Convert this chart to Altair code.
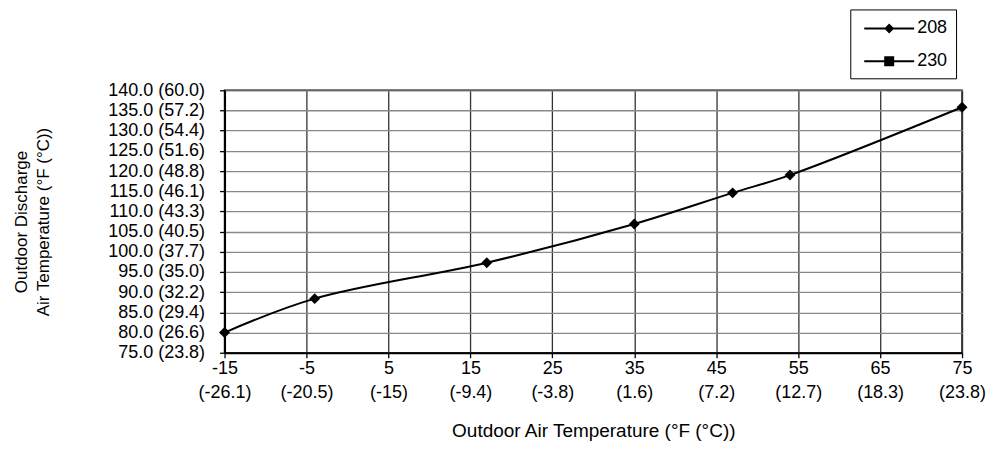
import altair as alt
import pandas as pd

# ---- data ----
outdoor_f = [-15, -4, 17, 35, 47, 54, 75]
discharge_208 = [80.0, 88.4, 97.3, 106.9, 114.6, 119.0, 135.8]
series_names = ["208", "230"]

x_ticks = [-15, -5, 5, 15, 25, 35, 45, 55, 65, 75]
x_tick_c = ["(-26.1)", "(-20.5)", "(-15)", "(-9.4)", "(-3.8)", "(1.6)", "(7.2)", "(12.7)", "(18.3)", "(23.8)"]
y_ticks = [75, 80, 85, 90, 95, 100, 105, 110, 115, 120, 125, 130, 135, 140]
y_tick_labels = ["75.0 (23.8)", "80.0 (26.6)", "85.0 (29.4)", "90.0 (32.2)", "95.0 (35.0)",
                 "100.0 (37.7)", "105.0 (40.5)", "110.0 (43.3)", "115.0 (46.1)", "120.0 (48.8)",
                 "125.0 (51.6)", "130.0 (54.4)", "135.0 (57.2)", "140.0 (60.0)"]

df = pd.DataFrame({"x": outdoor_f, "y": discharge_208, "series": "208"})

x_expr = "{" + ",".join(f"'{v}':['{v}','{c}']" for v, c in zip(x_ticks, x_tick_c)) + "}[datum.value+'']"
y_expr = "{" + ",".join(f"'{v}':'{t}'" for v, t in zip(y_ticks, y_tick_labels)) + "}[datum.value+'']"

narrow = "Liberation Sans Narrow, Arial Narrow, Liberation Sans, Arial, sans-serif"
regular = "Liberation Sans, Arial, sans-serif"

x_enc = alt.X("x:Q",
              scale=alt.Scale(domain=[-15, 75], nice=False, zero=False),
              axis=alt.Axis(values=x_ticks, tickCount=len(x_ticks) + 5, labelExpr=x_expr,
                            title="Outdoor Air Temperature (°F (°C))",
                            labelFont=narrow, labelFontSize=18, labelColor="black",
                            labelLineHeight=24, labelPadding=2, labelBaseline="top",
                            labelOverlap=False,
                            titleFont=narrow, titleFontSize=19, titleFontWeight="normal", titleColor="black",
                            titleX=369.5, titleY=78, titleBaseline="middle", titleAnchor="middle",
                            grid=True, gridColor="#333333", gridWidth=1.3,
                            domainColor="black", domainWidth=2, tickColor="black", tickSize=5, tickWidth=1.3,
                            labelFlush=False))
y_enc = alt.Y("y:Q",
              scale=alt.Scale(domain=[75, 140], nice=False, zero=False),
              axis=alt.Axis(values=y_ticks, tickCount=len(y_ticks) + 5, labelExpr=y_expr,
                            title=["Outdoor Discharge", "Air Temperature (°F (°C))"],
                            labelFont=regular, labelFontSize=18, labelColor="black", labelPadding=15,
                            labelOverlap=False,
                            titleFont=regular, titleFontSize=17, titleFontWeight="normal", titleColor="black",
                            titleAngle=-90, titleX=-203, titleY=131.5, titleBaseline="middle",
                            titleAlign="center", titleLineHeight=22,
                            grid=True, gridColor="#888888", gridWidth=1.3,
                            domainColor="black", domainWidth=2, tickColor="black", tickSize=5, tickWidth=1.3,
                            labelFlush=False))

line = alt.Chart(df).mark_line(color="black", strokeWidth=2, interpolate="catmull-rom").encode(x=x_enc, y=y_enc)

points = alt.Chart(df).mark_point(filled=True, color="black", opacity=1, size=120).encode(
    x="x:Q", y="y:Q", shape=alt.value("diamond"))

# legend glyphs: a short line with the marker in its middle (all filled sub-paths)
diamond_path = "M-0.5,-0.1 L4.5,-0.1 L4.5,0.1 L-0.5,0.1 Z M2,-0.5 L2.5,0 L2,0.5 L1.5,0 Z"
square_path = "M-0.5,-0.1 L4.5,-0.1 L4.5,0.1 L-0.5,0.1 Z M1.5,-0.5 L2.5,-0.5 L2.5,0.5 L1.5,0.5 Z"

legend_layer = alt.Chart(df).mark_point(filled=True, size=400, opacity=0, fill="black").encode(
    x="x:Q", y="y:Q",
    shape=alt.Shape("series:N",
                    scale=alt.Scale(domain=series_names, range=[diamond_path, square_path]),
                    legend=alt.Legend(title=None, orient="none", legendX=627, legendY=-81,
                                      padding=8, strokeColor="black", fillColor="white",
                                      rowPadding=13, labelOffset=37, labelFontSize=18,
                                      labelFont=regular, labelColor="black",
                                      symbolOpacity=1, symbolFillColor="black",
                                      symbolSize=400)))

chart = alt.layer(line, points, legend_layer).properties(
    width=739, height=263,
    autosize=alt.AutoSizeParams(type="none"),
    padding={"left": 217, "top": 82, "right": 25, "bottom": 95},
    background="white",
).configure_view(stroke="black", strokeWidth=1.5)

chart.save("out.html", embed_options={"renderer": "svg", "actions": False})
